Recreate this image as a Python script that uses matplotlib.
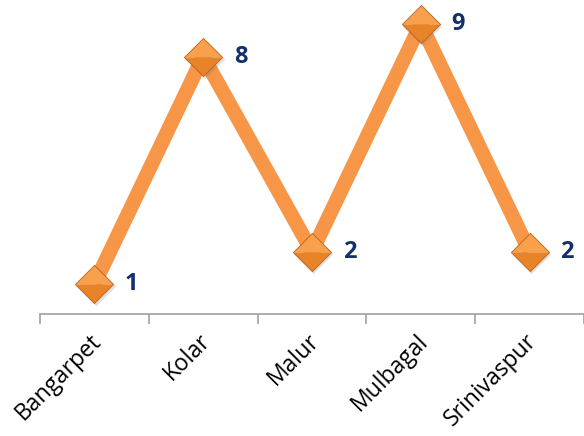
import matplotlib.pyplot as plt
import numpy as np
from matplotlib.path import Path

# data
towns = ['Bangarpet', 'Kolar', 'Malur', 'Mulbagal', 'Srinivaspur']
counts = [1, 8, 2, 9, 2]

LINE_COL = '#F79646'
LABEL_COL = '#14306A'

plt.rcParams['font.family'] = ['Open Sans', 'DejaVu Sans']

fig = plt.figure(figsize=(5.84, 4.36), dpi=100)
ax = fig.add_axes([40 / 584, 122 / 436, 1.0 - 40 / 584, 1 - 122 / 436])

x = np.arange(len(towns))
ax.plot(x, counts, color=LINE_COL, lw=10.5, solid_capstyle='butt',
        solid_joinstyle='miter', zorder=2)

# diamond markers: two halves to fake the bevel shading, plus a soft shadow
top_half = Path([(-1, 0), (0, 1), (1, 0), (-1, 0)])
bot_half = Path([(-1, 0), (0, -1), (1, 0), (-1, 0)])
diamond = Path([(-1, 0), (0, 1), (1, 0), (0, -1), (-1, 0)])
ax.plot(x + 0.012, np.array(counts) - 0.07, linestyle='none', marker=diamond,
        ms=28.5, mfc='#7a7a7a', mec='none', alpha=0.22, zorder=3)
ax.plot(x, counts, linestyle='none', marker=top_half, ms=27.5,
        mfc='#F9A04C', mec='none', zorder=4)
ax.plot(x, counts, linestyle='none', marker=bot_half, ms=27.5,
        mfc='#E98327', mec='none', zorder=4)
ax.plot(x, counts, linestyle='none', marker=diamond, ms=27.5,
        mfc='none', mec='#B8621E', mew=0.6, zorder=5)

for xi, v in zip(x, counts):
    ax.annotate(str(v), (xi, v), xytext=(22, 0), textcoords='offset points',
                ha='left', va='center', fontsize=17, fontweight='bold',
                color=LABEL_COL)

ax.set_xlim(-0.5, len(towns) - 0.5)
ax.set_ylim(0.077, 9.74)

for s in ['top', 'right', 'left']:
    ax.spines[s].set_visible(False)
ax.spines['bottom'].set_color('#A0A0A0')
ax.spines['bottom'].set_linewidth(1.2)
ax.set_yticks([])

ax.set_xticks(np.arange(len(towns) + 1) - 0.5, minor=False)
ax.set_xticklabels([])
ax.tick_params(axis='x', which='major', length=7, width=1.2, color='#A0A0A0')
ax.set_xticks(x - 5 / 109, minor=True)
ax.set_xticklabels(towns, minor=True, rotation=45, ha='right',
                   rotation_mode='anchor', fontsize=16.5)
ax.tick_params(axis='x', which='minor', length=0, pad=11)

fig.savefig('out.png', dpi=100)
